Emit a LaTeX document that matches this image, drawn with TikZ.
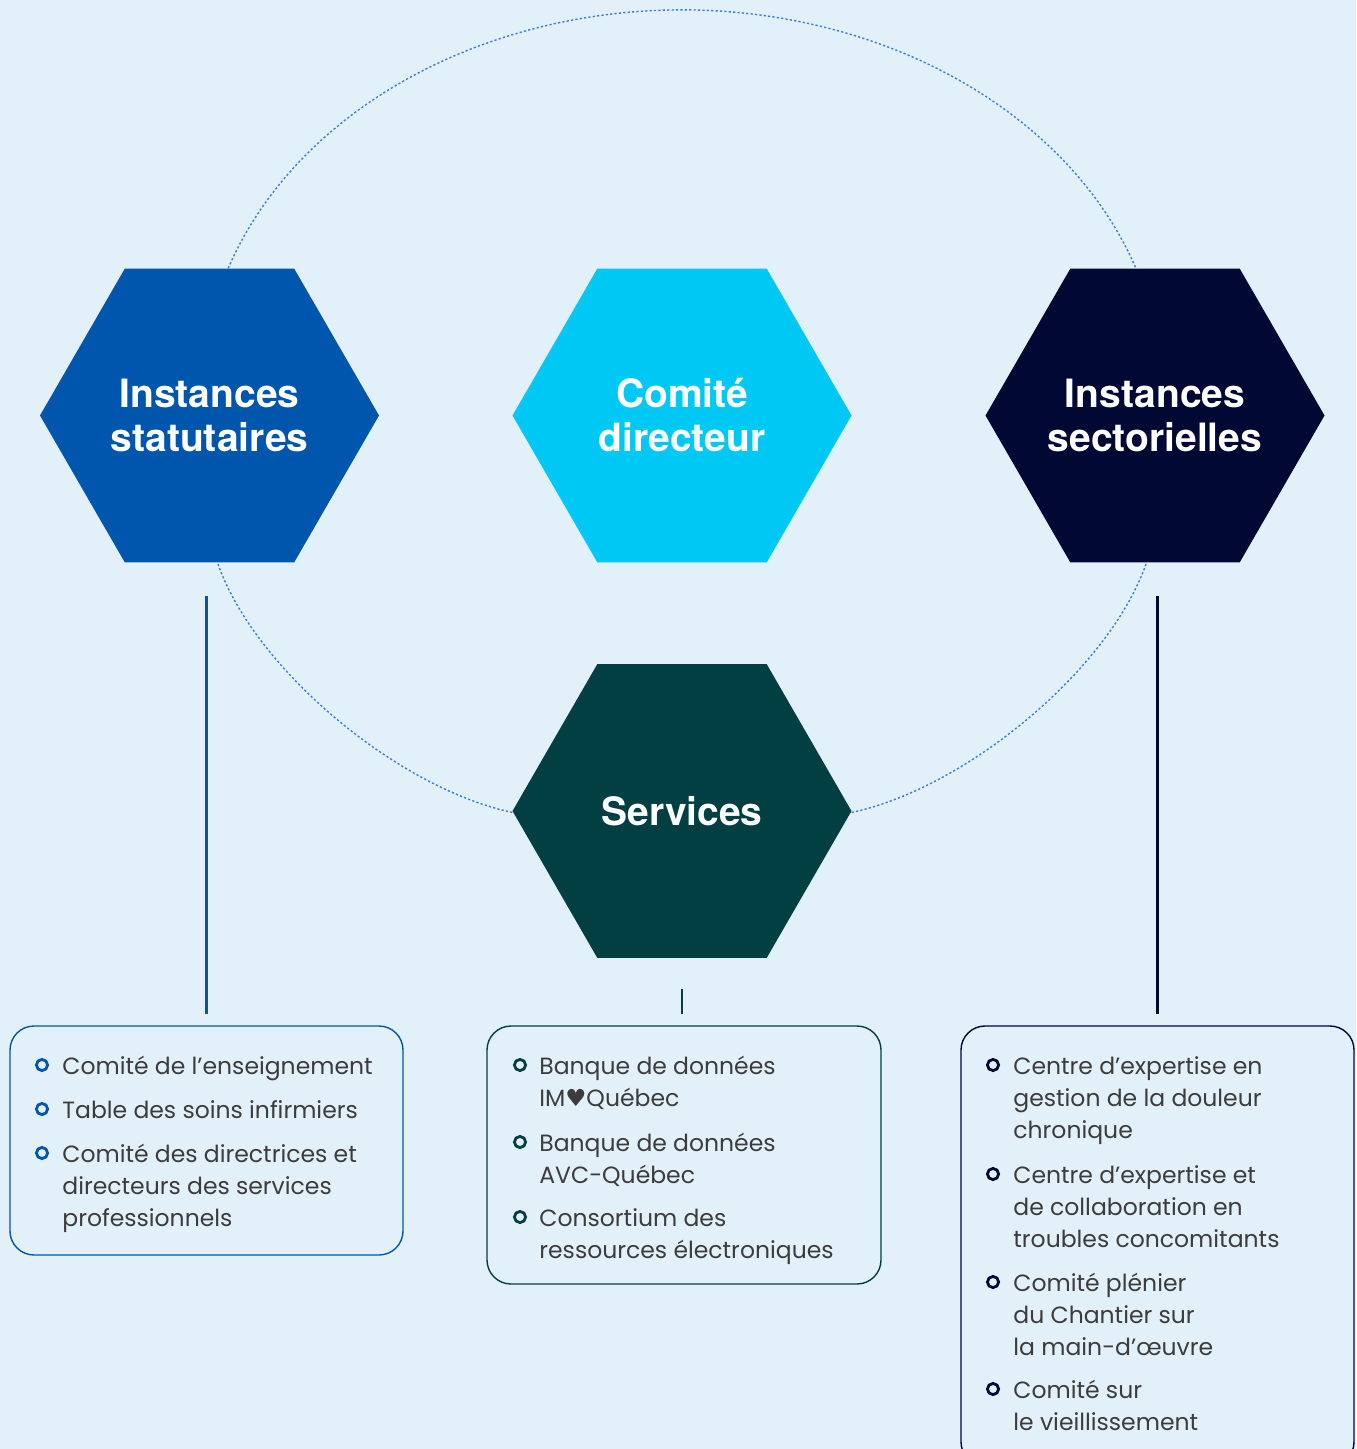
\documentclass[tikz,border=0pt]{standalone}
\usepackage{fontspec}
\setmainfont{Poppins}
\newfontfamily\titlefont{TeX Gyre Heros}
\newfontfamily\symbfont{DejaVu Sans}
\usetikzlibrary{shapes.geometric}

\definecolor{bgblue}{HTML}{E2F0FA}
\definecolor{statblue}{HTML}{0055AD}
\definecolor{dircyan}{HTML}{00C8F5}
\definecolor{sectnavy}{HTML}{000833}
\definecolor{servteal}{HTML}{023F42}
\definecolor{orbitblue}{HTML}{3F7FD0}
\definecolor{txtgray}{HTML}{3C3C3C}

\tikzset{
  hexa/.style={regular polygon, regular polygon sides=6, minimum size=169.5pt,
    inner sep=0pt, outer sep=0pt, fill=#1},
  hexatitle/.style={text=white, align=center, inner sep=0pt,
    font=\titlefont\bfseries\fontsize{19.5}{22}\selectfont},
  listbox/.style={draw=#1, line width=0.7pt, rounded corners=12pt,
    inner sep=0pt, outer sep=0pt},
  bullet/.style={circle, draw=#1, line width=1.4pt, minimum size=5.6pt, inner sep=0pt},
  entry/.style={anchor=north west, inner sep=0pt, align=left, text=txtgray,
    font=\fontsize{11.75}{16}\selectfont},
  stem/.style={draw=#1, line width=1.2pt},
  orbit/.style={draw=orbitblue, line width=0.7pt, dash pattern=on 1.1pt off 1.1pt}
}

\begin{document}
\begin{tikzpicture}[x=0.5pt,y=-0.5pt]
  \useasboundingbox (0,0) rectangle (1356,1449);
  \fill[bgblue] (0,0) rectangle (1356,1449);
  \clip (0,0) rectangle (1356,1449);

  % dotted orbit behind the hexagons
  \draw[orbit] (228.2,268.3) arc[start angle=199, end angle=341, x radius=480, y radius=383];
  \draw[orbit] (218,564) .. controls (255,670) and (400,790) .. (515,813);
  \draw[orbit] (1146,564) .. controls (1109,670) and (964,790) .. (849,813);

  \node[hexa=statblue, label={[hexatitle]center:Instances\\statutaires}] (hexStat) at (209.5,415.5) {};
  \node[hexa=dircyan,  label={[hexatitle]center:Comité\\directeur}]      (hexDir)  at (682,415.5)   {};
  \node[hexa=sectnavy, label={[hexatitle]center:Instances\\sectorielles}] (hexSect) at (1155,415.5) {};
  \node[hexa=servteal, label={[hexatitle]center:Services}]               (hexServ) at (682,811)     {};

  \node[listbox=statblue, minimum width=196.5pt, minimum height=114.5pt] (boxStat) at (206.5,1140.5) {};
  \node[listbox=servteal, minimum width=197pt, minimum height=129pt]    (boxServ) at (684,1155) {};
  \node[listbox=sectnavy, minimum width=196.5pt, minimum height=220pt]  (boxSect) at (1157.5,1246) {};

  \draw[stem=statblue, shorten <=17pt, shorten >=6pt] (boxStat.north |- hexStat.south) -- (boxStat.north);
  \draw[stem=servteal, shorten <=15.5pt, shorten >=6pt] (hexServ.south) -- (hexServ.south |- boxServ.north);
  \draw[stem=sectnavy, shorten <=17pt, shorten >=6pt] (boxSect.north |- hexSect.south) -- (boxSect.north);

  % Instances statutaires
  \node[bullet=statblue] (dotStatA) at (42,1065) {};
  \node[entry] (itemStatA) at (62,1051.6) {\strut Comité de l’enseignement};
  \node[bullet=statblue] (dotStatB) at (42,1109) {};
  \node[entry] (itemStatB) at (62,1095.6) {\strut Table des soins infirmiers};
  \node[bullet=statblue] (dotStatC) at (42,1153) {};
  \node[entry] (itemStatC) at (62,1139.6) {\strut Comité des directrices et\\directeurs des services\\professionnels};

  % Services
  \node[bullet=servteal] (dotServA) at (520,1065) {};
  \node[entry] (itemServA) at (539,1051.6) {\strut Banque de données\\IM{\symbfont ♥}Québec};
  \node[bullet=servteal] (dotServB) at (520,1142) {};
  \node[entry] (itemServB) at (539,1128.6) {\strut Banque de données\\AVC-Québec};
  \node[bullet=servteal] (dotServC) at (520,1217) {};
  \node[entry] (itemServC) at (539,1203.6) {\strut Consortium des\\ressources électroniques};

  % Instances sectorielles
  \node[bullet=sectnavy] (dotSectA) at (993,1065) {};
  \node[entry] (itemSectA) at (1013,1051.6) {\strut Centre d’expertise en\\gestion de la douleur\\chronique};
  \node[bullet=sectnavy] (dotSectB) at (993,1174) {};
  \node[entry] (itemSectB) at (1013,1160.6) {\strut Centre d’expertise et\\de collaboration en\\troubles concomitants};
  \node[bullet=sectnavy] (dotSectC) at (993,1282) {};
  \node[entry] (itemSectC) at (1013,1268.6) {\strut Comité plénier\\du Chantier sur\\la main-d’œuvre};
  \node[bullet=sectnavy] (dotSectD) at (993,1389) {};
  \node[entry] (itemSectD) at (1013,1375.6) {\strut Comité sur\\le vieillissement};
\end{tikzpicture}
\end{document}
